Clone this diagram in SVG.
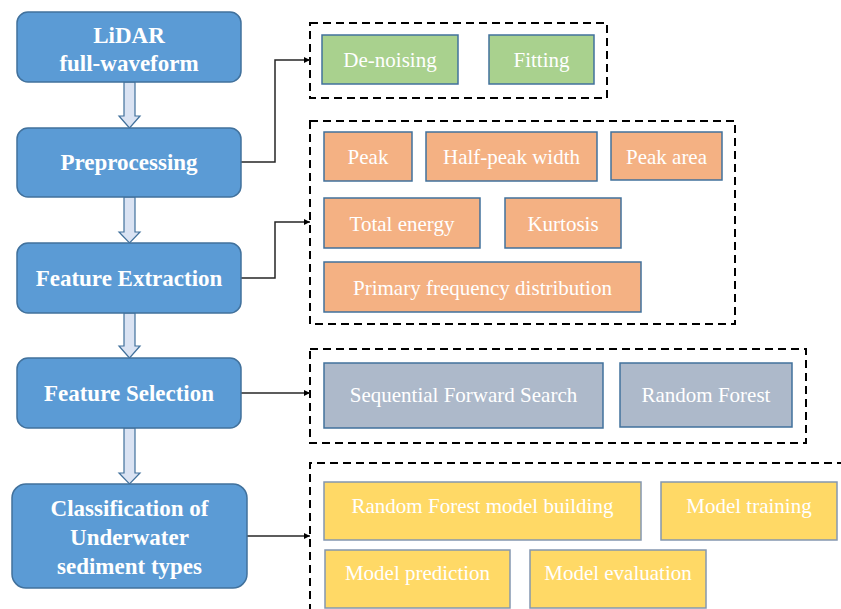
<svg xmlns="http://www.w3.org/2000/svg" width="841" height="609" viewBox="0 0 841 609">
<defs>
<style>
.main{fill:#5b9bd5;stroke:#41719c;stroke-width:1.5}
.mt{font-family:"Liberation Serif","Times New Roman",serif;font-weight:bold;font-size:23px;fill:#fff;text-anchor:middle}
.st{font-family:"Liberation Serif","Times New Roman",serif;font-size:21px;fill:#fff;text-anchor:middle}
.barrow{fill:#dae3f3;stroke:#41719c;stroke-width:1.2}
.dash{fill:none;stroke:#000;stroke-width:2;stroke-dasharray:8,5}
.g{fill:#a9d18e;stroke:#41719c;stroke-width:1.5}
.o{fill:#f4b183;stroke:#41719c;stroke-width:1.5}
.s{fill:#adb9ca;stroke:#41719c;stroke-width:1.5}
.y{fill:#ffd966;stroke:#8497b0;stroke-width:1.5}
.conn{fill:none;stroke:#262626;stroke-width:1.5}
</style>
<marker id="ah" viewBox="0 0 10 10" refX="10" refY="5" markerWidth="6" markerHeight="6" orient="auto" markerUnits="userSpaceOnUse">
<path d="M0,0 L10,5 L0,10 Z" fill="#000"/>
</marker>
</defs>
<rect width="841" height="609" fill="#fff"/>

<g id="containers">
<rect class="dash" x="310" y="23" width="297" height="75"/>
<rect class="dash" x="310" y="121" width="425" height="203"/>
<rect class="dash" x="310" y="349" width="496" height="94"/>
<path class="dash" d="M310,612 V463 H845"/>
</g>

<g id="connectors">
<path class="barrow" d="M124,82 H135 V116 H140 L129.5,128 L119,116 H124 Z"/>
<path class="barrow" d="M124,197 H135 V232 H140 L129.5,243 L119,232 H124 Z"/>
<path class="barrow" d="M124,313 H135 V346 H140 L129.5,358 L119,346 H124 Z"/>
<path class="barrow" d="M124,428 H135 V473 H140 L129.5,484 L119,473 H124 Z"/>
<path class="conn" marker-end="url(#ah)" d="M241,162 H275 V60 H310"/>
<path class="conn" marker-end="url(#ah)" d="M241,278 H275 V222 H310"/>
<path class="conn" marker-end="url(#ah)" d="M241,393 H310"/>
<path class="conn" marker-end="url(#ah)" d="M247,536 H310"/>
</g>

<g id="n-lidar">
<rect class="main" x="17" y="12" width="224" height="70" rx="11"/>
<text class="mt" x="129" y="43">LiDAR</text>
<text class="mt" x="129" y="71">full-waveform</text>
</g>
<g id="n-preprocessing">
<rect class="main" x="17" y="128" width="224" height="69" rx="11"/>
<text class="mt" x="129" y="170">Preprocessing</text>
</g>
<g id="n-extraction">
<rect class="main" x="17" y="243" width="224" height="70" rx="11"/>
<text class="mt" x="129" y="286">Feature Extraction</text>
</g>
<g id="n-selection">
<rect class="main" x="17" y="358" width="224" height="70" rx="11"/>
<text class="mt" x="129" y="401">Feature Selection</text>
</g>
<g id="n-classification">
<rect class="main" x="12" y="484" width="235" height="104" rx="14"/>
<text class="mt" x="129.5" y="516">Classification of</text>
<text class="mt" x="129.5" y="545">Underwater</text>
<text class="mt" x="129.5" y="574">sediment types</text>
</g>

<g id="n-denoising">
<rect class="g" x="322" y="35" width="136" height="49"/>
<text class="st" x="390" y="67">De-noising</text>
</g>
<g id="n-fitting">
<rect class="g" x="489" y="35" width="105" height="49"/>
<text class="st" x="541.5" y="67">Fitting</text>
</g>

<g id="n-peak">
<rect class="o" x="324" y="132" width="88" height="49"/>
<text class="st" x="368" y="164">Peak</text>
</g>
<g id="n-halfpeak">
<rect class="o" x="426" y="132" width="171" height="49"/>
<text class="st" x="511.5" y="164">Half-peak width</text>
</g>
<g id="n-peakarea">
<rect class="o" x="611" y="132" width="111" height="48"/>
<text class="st" x="666.5" y="164">Peak area</text>
</g>
<g id="n-energy">
<rect class="o" x="324" y="198" width="156" height="50"/>
<text class="st" x="402" y="231">Total energy</text>
</g>
<g id="n-kurtosis">
<rect class="o" x="505" y="198" width="116" height="50"/>
<text class="st" x="563" y="231">Kurtosis</text>
</g>
<g id="n-pfd">
<rect class="o" x="324" y="262" width="317" height="50"/>
<text class="st" x="482.5" y="295">Primary frequency distribution</text>
</g>

<g id="n-sfs">
<rect class="s" x="324" y="363" width="279" height="65"/>
<text class="st" x="463.5" y="402">Sequential Forward Search</text>
</g>
<g id="n-rf">
<rect class="s" x="620" y="363" width="172" height="64"/>
<text class="st" x="706" y="402">Random Forest</text>
</g>

<g id="n-rfbuild">
<rect class="y" x="324" y="482" width="317" height="58"/>
<text class="st" x="482.5" y="513">Random Forest model building</text>
</g>
<g id="n-training">
<rect class="y" x="661" y="482" width="176" height="58"/>
<text class="st" x="749" y="513">Model training</text>
</g>
<g id="n-prediction">
<rect class="y" x="325" y="550" width="185" height="58"/>
<text class="st" x="417.5" y="580">Model prediction</text>
</g>
<g id="n-evaluation">
<rect class="y" x="530" y="550" width="176" height="58"/>
<text class="st" x="618" y="580">Model evaluation</text>
</g>
</svg>
